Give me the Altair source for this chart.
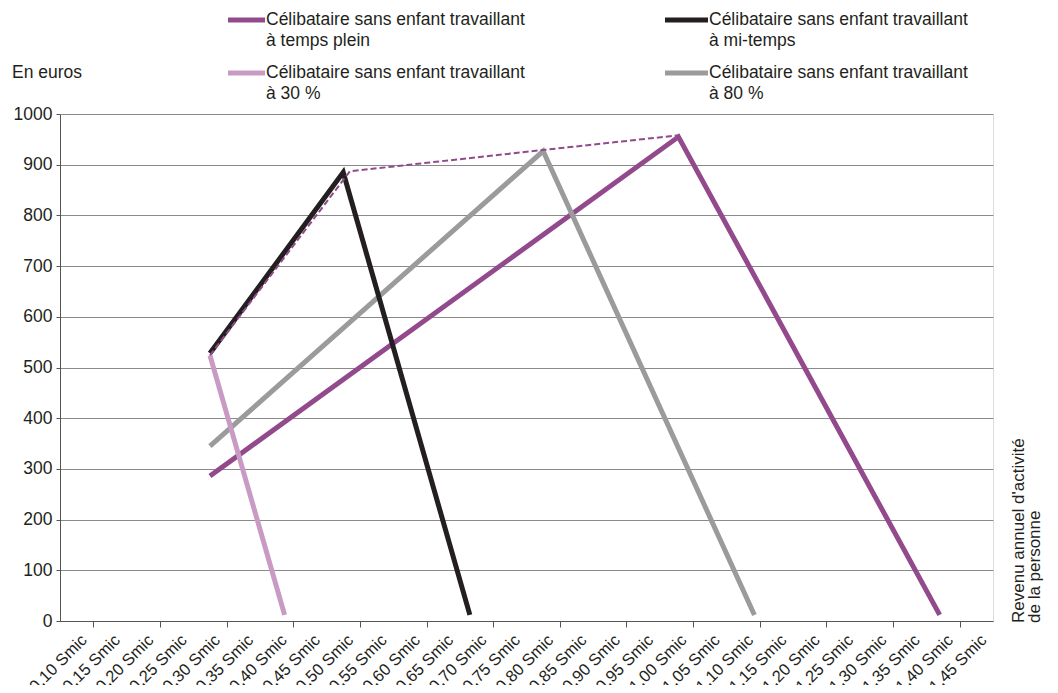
import altair as alt
import pandas as pd

# ---------------- data ----------------
smic_labels = ["0,10 Smic", "0,15 Smic", "0,20 Smic", "0,25 Smic", "0,30 Smic", "0,35 Smic",
               "0,40 Smic", "0,45 Smic", "0,50 Smic", "0,55 Smic", "0,60 Smic", "0,65 Smic",
               "0,70 Smic", "0,75 Smic", "0,80 Smic", "0,85 Smic", "0,90 Smic", "0,95 Smic",
               "1,00 Smic", "1,05 Smic", "1,10 Smic", "1,15 Smic", "1,20 Smic", "1,25 Smic",
               "1,30 Smic", "1,35 Smic", "1,40 Smic", "1,45 Smic"]
smic_values = [float(s.split()[0].replace(",", ".")) for s in smic_labels]

series_names = ["Célibataire sans enfant travaillant à temps plein",
                "Célibataire sans enfant travaillant à mi-temps",
                "Célibataire sans enfant travaillant à 30 %",
                "Célibataire sans enfant travaillant à 80 %"]

plein_x = [0.30, 1.003, 1.395]
plein_y = [286, 955, 12]
mi_x = [0.30, 0.50, 0.69]
mi_y = [528, 885, 12]
trente_x = [0.30, 0.412]
trente_y = [524, 12]
quatre_x = [0.30, 0.80, 1.117]
quatre_y = [345, 927, 12]
enveloppe_x = [0.30, 0.51, 0.80, 1.003]
enveloppe_y = [524, 887, 929, 958]

colors = ["#924a8c", "#231f20", "#c99ac3", "#9a9b9d"]

# ---------------- tables ----------------
rows = []
for name, xs, ys in [(series_names[0], plein_x, plein_y),
                     (series_names[3], quatre_x, quatre_y),
                     (series_names[2], trente_x, trente_y),
                     (series_names[1], mi_x, mi_y)]:
    for i, (a, b) in enumerate(zip(xs, ys)):
        rows.append({"serie": name, "smic": a, "val": b, "ordre": i})
df = pd.DataFrame(rows)
df_env = pd.DataFrame({"smic": enveloppe_x, "val": enveloppe_y,
                       "ordre": list(range(len(enveloppe_x)))})
df_labels = pd.DataFrame({"smic": smic_values, "lab": smic_labels})

step = smic_values[1] - smic_values[0]
lo = smic_values[0] - step / 2
hi = smic_values[-1] + step / 2
boundaries = [round(lo + step * k, 4) for k in range(len(smic_values) + 1)]

W, H = 933, 507
FONT = "Liberation Sans"
TXT = "#231f20"
AX = "#555555"

xscale = alt.Scale(domain=[lo, hi], nice=False, zero=False)
yscale = alt.Scale(domain=[0, 1000], nice=False)

xaxis = alt.Axis(values=boundaries, title=None, grid=False, tickSize=6, tickColor=AX,
                 domainColor=AX, labels=False)
yaxis = alt.Axis(values=list(range(0, 1001, 100)), title=None, grid=True, format="d",
                 gridColor="#8a8a8a", gridWidth=1, tickSize=4, tickColor=AX,
                 domainColor=AX, labelFont=FONT, labelFontSize=17.5,
                 labelColor=TXT, labelPadding=4)

lines = alt.Chart(df).mark_line(strokeWidth=5, strokeCap="butt", strokeJoin="miter").encode(
    x=alt.X("smic:Q", scale=xscale, axis=xaxis),
    y=alt.Y("val:Q", scale=yscale, axis=yaxis),
    color=alt.Color("serie:N", scale=alt.Scale(domain=series_names, range=colors), legend=None),
    order="ordre:Q",
)

env = alt.Chart(df_env).mark_line(strokeWidth=2, strokeDash=[6, 3], color=colors[0]).encode(
    x=alt.X("smic:Q", scale=xscale),
    y=alt.Y("val:Q", scale=yscale),
    order="ordre:Q",
)

xlabels = alt.Chart(df_labels).mark_text(
    align="right", baseline="top", angle=315, font=FONT, fontSize=16.5, color=TXT,
    xOffset=2).encode(
    x=alt.X("smic:Q", scale=xscale),
    y=alt.value(H + 11),
    text="lab:N",
)

one = pd.DataFrame({"k": [0]})
annots = []
leg_items = [
    (colors[0], 168, 205, -94, ["Célibataire sans enfant travaillant", "à temps plein"]),
    (colors[1], 605, 648, -94, ["Célibataire sans enfant travaillant", "à mi-temps"]),
    (colors[2], 168, 205, -41, ["Célibataire sans enfant travaillant", "à 30 %"]),
    (colors[3], 605, 648, -41, ["Célibataire sans enfant travaillant", "à 80 %"]),
]
for col, x1, x2, yy, lines_txt in leg_items:
    annots.append(alt.Chart(one).mark_rule(color=col, strokeWidth=5).encode(
        x=alt.value(x1), x2=alt.value(x2), y=alt.value(yy)))
    for j, t in enumerate(lines_txt):
        annots.append(alt.Chart(one).mark_text(
            text=t, align="left", baseline="middle", font=FONT, fontSize=17.5, color=TXT).encode(
            x=alt.value(x2 + 1), y=alt.value(yy + 21 * j)))

annots.append(alt.Chart(one).mark_text(
    text="En euros", align="left", baseline="middle", font=FONT, fontSize=17.5, color=TXT).encode(
    x=alt.value(-48), y=alt.value(-41)))

for j, t in enumerate(["Revenu annuel d'activité", "de la personne"]):
    annots.append(alt.Chart(one).mark_text(
        text=t, align="left", baseline="middle", angle=270, font=FONT, fontSize=17,
        color=TXT).encode(x=alt.value(959 + 16 * j), y=alt.value(509)))

chart = alt.layer(lines, env, xlabels, *annots).properties(
    width=W, height=H,
    autosize=alt.AutoSizeParams(type="none"),
    padding={"left": 52, "top": 106, "right": 57, "bottom": 64},
).configure_view(stroke=None).configure(background="white")

chart.save("out.html", embed_options={"renderer": "svg", "actions": False})
